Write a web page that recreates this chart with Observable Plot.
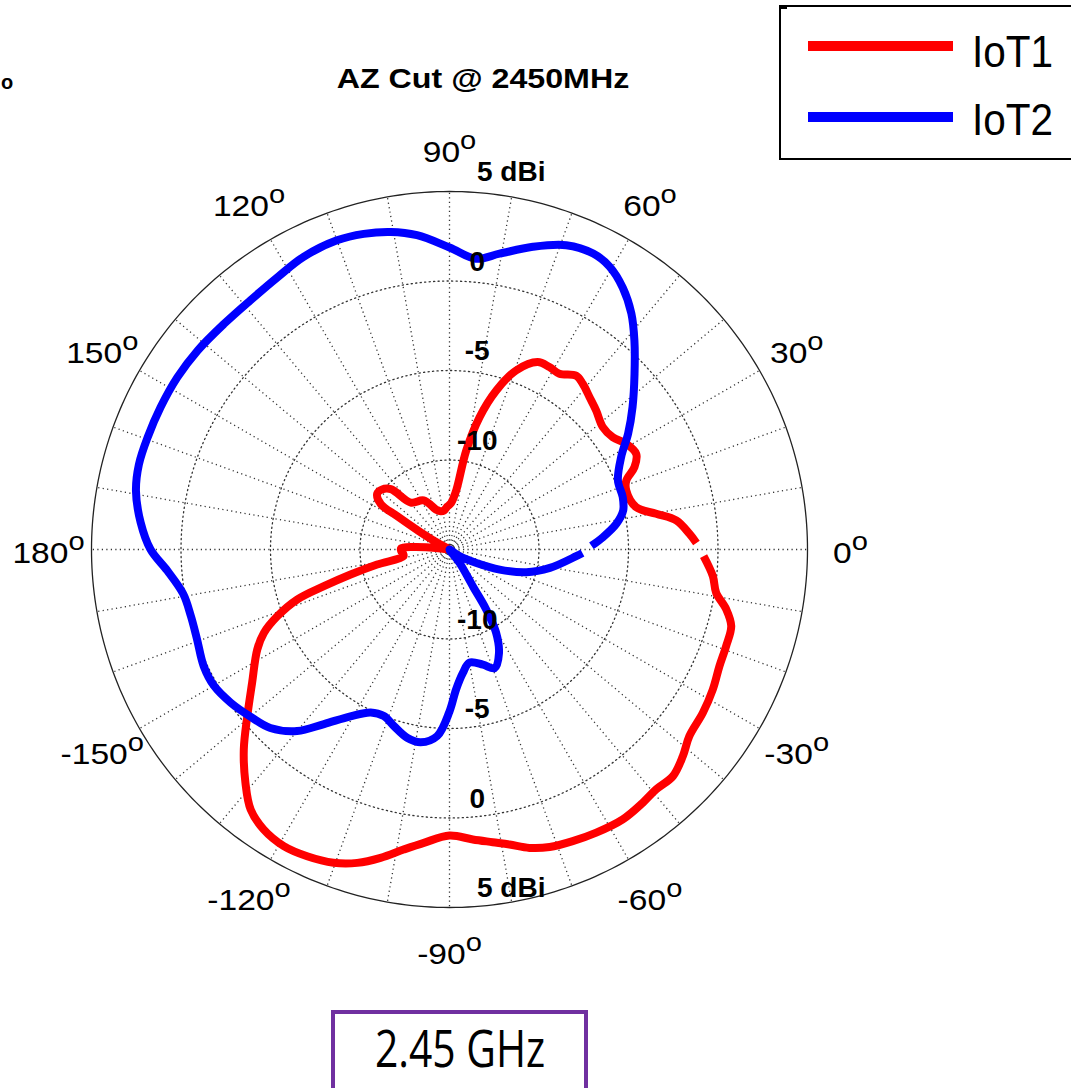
<!DOCTYPE html>
<html>
<head>
<meta charset="utf-8">
<script src="https://cdn.jsdelivr.net/npm/d3@7"></script>
<script src="https://cdn.jsdelivr.net/npm/@observablehq/plot@0.6"></script>
<style>
  body { margin: 0; background: #fff; }
  #wrap { position: relative; width: 1071px; height: 1088px; overflow: hidden; font-family: "Liberation Sans", Arial, sans-serif; background: #fff; }
  #chart { position: absolute; left: 0; top: 0; }
  #title { position: absolute; left: 283px; top: 65px; width: 400px; text-align: center; font-weight: bold; font-size: 28px; line-height: 1; transform: scaleX(1.15); white-space: nowrap; }
  #stray { position: absolute; left: 1px; top: 72px; font-weight: bold; font-size: 20px; line-height: 1; }
  #legend { position: absolute; left: 779px; top: 5px; width: 330px; height: 151px; border: 2px solid #000; box-sizing: content-box; }
  #legend .notch { position: absolute; left: -2px; top: -2px; width: 8px; height: 4px; background: #000; }
  .lg-line { position: absolute; height: 10px; width: 145px; }
  .lg-text { position: absolute; font-size: 45px; line-height: 1; transform: scaleX(0.9); transform-origin: left top; white-space: nowrap; }
  #freq { position: absolute; left: 331px; top: 1010px; width: 249px; height: 110px; border: 4.5px solid #7030A0; }
  #freqText { position: absolute; left: 331px; top: 1022px; width: 258px; text-align: center; font-family: "Open Sans", "Noto Sans", sans-serif; font-size: 51px; line-height: 1; transform: scaleX(0.8); white-space: nowrap; }
</style>
</head>
<body>
<div id="wrap">
  <div id="chart"></div>
  <div id="stray">o</div>
  <div id="title"></div>
  <div id="legend"><div class="notch"></div></div>
  <div id="freq"></div>
  <div id="freqText"></div>
</div>
<script>
// ---------------- data ----------------
const titleText = "AZ Cut @ 2450MHz";
const freqLabel = "2.45 GHz";
const seriesNames = ["IoT1", "IoT2"];
const seriesColors = ["#ff0000", "#0000ff"];

// radial axis (dBi): centre of the plot = rMin, outer circle = rMax
const rMin = -15;
const rMax = 5;
const ringValues = [-10, -5, 0, 5];
const ringLabels = ["-10", "-5", "0", "5 dBi"];

// angular axis (degrees)
const spokeAngles = [0, 10, 20, 30, 40, 50, 60, 70, 80, 90, 100, 110, 120, 130, 140, 150, 160, 170,
                     180, 190, 200, 210, 220, 230, 240, 250, 260, 270, 280, 290, 300, 310, 320, 330, 340, 350];
const angleTicks = [0, 30, 60, 90, 120, 150, 180, 210, 240, 270, 300, 330];
const angleTickLabels = ["0", "30", "60", "90", "120", "150", "180", "-150", "-120", "-90", "-60", "-30"];

// IoT1 (red) – azimuth (deg) and gain (dBi)
const iot1Angle = [1.5, 3.7, 7.3, 9.8, 12.8, 18.5, 21.3, 24.0, 27.1, 30.9, 34.5, 38.6, 43.5, 47.4, 51.2,
  53.9, 58.0, 61.3, 64.8, 69.6, 73.6, 77.2, 80.4, 83.5, 88, 93, 98, 103, 107.5, 117.7,
  129.5, 134.2, 138.5, 142.4, 146.5, 147.5, 149, 151, 153, 160, 168, 173, 176, 178.5, 182,
  185, 188.3, 191.7, 194.2, 196.3, 198.2, 201.2, 204.2, 207.5, 214, 219.5, 224.2, 228.8, 232.6, 236.4,
  240.8, 245.1, 249.7, 253.6, 257.4, 261.3, 265, 270, 274.6, 278.4, 281.5, 285, 288.6, 292.9, 297.4,
  302.7, 307.3, 310.7, 314.6, 318.5, 322.1, 327.2, 332, 336.6, 340.7, 344.8, 347.8, 350.8, 354.2, 358.5];
const iot1Gain = [-1.2, -1.56, -2.23, -3.28, -4.31, -4.59, -4.40, -3.69, -3.28, -3.50, -3.93, -4.04, -3.71, -3.44, -3.12,
  -2.98, -3.42, -3.38, -3.43, -4.33, -5.74, -7.42, -9.39, -11.68, -12.4, -12.6, -12.8, -12.8, -12.7, -11.9,
  -11.6, -10.3, -9.95, -9.9, -10.4, -11.5, -13.0, -14.2, -15.5, -18, -16, -14.5, -13.0, -12.3, -12.3,
  -12.4, -12.4, -10.87, -9.30, -7.69, -6.04, -4.68, -3.63, -2.89, -1.70, -0.36, 1.03, 2.31, 3.29, 3.77,
  3.98, 3.89, 3.66, 3.25, 2.65, 1.96, 1.45, 0.98, 1.25, 1.53, 1.82, 2.26, 2.54, 2.69, 2.82,
  2.92, 2.80, 2.69, 2.78, 2.41, 1.98, 1.84, 1.66, 1.43, 1.37, 1.31, 0.82, 0.09, -0.21, -0.8];

// IoT2 (blue)
const iot2Angle = [1.5, 4.6, 8.8, 12.6, 16.8, 22.3, 28.3, 33.0, 37.9, 43.5, 48.5, 52.4, 56.5, 60.5, 64.1,
  69.0, 74.6, 80.4, 84.8, 90, 95.9, 100.5, 105.2, 110, 116.5, 122.3, 128.6, 135, 141.7, 147.7,
  153.8, 159.6, 164.7, 169.4, 175, 180, 184.3, 189.5, 194.4, 199.6, 205.4, 210.1, 215, 219.9, 224.9,
  230, 234.3, 239.3, 244.2, 248.5, 252.5, 257.3, 261.5, 266.2, 270, 272.7, 276.2, 280, 286.2, 290.8,
  295.5, 299.3, 301.5, 302.4, 306.9, 315, 326.3, 333.5, 338.2, 343.5, 349.6, 357, 358.5];
const iot2Gain = [-7.07, -6.40, -5.56, -5.06, -4.89, -4.83, -4.11, -3.10, -2.04, -0.75, 0.59, 1.65, 2.54, 3.16, 3.38,
  3.21, 2.54, 1.76, 1.31, 1.87, 2.65, 3.04, 3.27, 3.38, 3.27, 2.99, 2.82, 2.82, 2.93, 2.99,
  2.99, 2.99, 2.99, 2.82, 2.32, 1.70, 0.81, 0.08, -0.08, -0.03, 0.20, 0.20, -0.08, -0.47, -0.87,
  -1.76, -2.99, -4.16, -4.89, -5.00, -4.66, -4.22, -4.11, -4.55, -5.95, -7.18, -8.07, -8.58, -8.30, -7.91,
  -8.58, -9.69, -11.09, -12.54, -14.05, -16, -14.33, -13.32, -11.98, -10.53, -9.30, -7.91, -7.57];

// ---------------- geometry helpers ----------------
const span = rMax - rMin;
const toRad = a => a * Math.PI / 180;
const R = g => Math.max(0, Math.min(span, g - rMin));
const PX = (a, g) => R(g) * Math.cos(toRad(a));
const PY = (a, g) => R(g) * Math.sin(toRad(a));

const cx = 449, cy = 549, rpx = 358;

const series = [
  {name: seriesNames[0], color: seriesColors[0], rows: iot1Angle.map((a, i) => ({a, g: iot1Gain[i]}))},
  {name: seriesNames[1], color: seriesColors[1], rows: iot2Angle.map((a, i) => ({a, g: iot2Gain[i]}))}
];

const circleSteps = d3.range(0, 361, 1);
const ringRows = ringValues.flatMap(v => circleSteps.map(a => ({v, a})));
const labelRows = angleTicks.map((a, i) => ({a, t: angleTickLabels[i]}));
const dbRows = ringValues.flatMap((v, i) => [{v, t: ringLabels[i], s: 1}, {v, t: ringLabels[i], s: -1}]);
const labelR = span + 2.4;

const plot = Plot.plot({
  width: 1071,
  height: 1088,
  x: {domain: [-span, span], range: [cx - rpx, cx + rpx], axis: null},
  y: {domain: [-span, span], range: [cy + rpx, cy - rpx], axis: null},
  style: {fontFamily: "'Liberation Sans', Arial, sans-serif", background: "transparent", overflow: "visible"},
  marks: [
    // dotted radial spokes
    Plot.link(spokeAngles, {
      x1: () => 0, y1: () => 0,
      x2: a => span * Math.cos(toRad(a)), y2: a => span * Math.sin(toRad(a)),
      stroke: "#333", strokeWidth: 1.3, strokeDasharray: "1.2 3.3"
    }),
    // dotted inner rings
    Plot.line(ringRows.filter(d => d.v < rMax), {
      x: d => PX(d.a, d.v), y: d => PY(d.a, d.v), z: "v",
      stroke: "#333", strokeWidth: 1.3, strokeDasharray: "1.2 3.3"
    }),
    // solid outer ring
    Plot.line(ringRows.filter(d => d.v === rMax), {
      x: d => PX(d.a, d.v), y: d => PY(d.a, d.v),
      stroke: "#222", strokeWidth: 1.3
    }),
    // data curves
    ...series.map(s => Plot.line(s.rows, {
      x: d => PX(d.a, d.g), y: d => PY(d.a, d.g),
      stroke: s.color, strokeWidth: 8, curve: "catmull-rom", strokeLinejoin: "round", strokeLinecap: "butt"
    })),
    // angle labels
    Plot.text(labelRows, {
      x: d => labelR * Math.cos(toRad(d.a)), y: d => labelR * Math.sin(toRad(d.a)),
      text: d => d.t + "|o", dy: 4, fontSize: 30, fill: "#000"
    }),
    // dBi ring labels
    Plot.text(dbRows, {
      x: d => d.v === rMax ? 3.45 : 1.55, y: d => d.s * R(d.v),
      text: "t", dy: -19, fontSize: 28, fontWeight: "bold", fill: "#000"
    })
  ]
});

// superscript "o" and horizontal stretch on angle labels
plot.querySelectorAll("text").forEach(t => {
  const s = t.textContent;
  if (s.includes("|")) {
    const [num, sup] = s.split("|");
    t.textContent = num;
    const ts = document.createElementNS("http://www.w3.org/2000/svg", "tspan");
    ts.setAttribute("dy", "-13");
    ts.setAttribute("font-size", "26");
    ts.textContent = sup;
    t.appendChild(ts);
    const tr = t.getAttribute("transform");
    if (tr) t.setAttribute("transform", tr + " scale(1.12,1)");
    else {
      const x = +t.getAttribute("x") || 0;
      t.removeAttribute("x");
      t.setAttribute("transform", `translate(${x},0) scale(1.12,1)`);
    }
  }
});

document.getElementById("chart").appendChild(plot);
document.getElementById("title").textContent = titleText;
document.getElementById("freqText").textContent = freqLabel;

// legend
const legend = document.getElementById("legend");
series.forEach((s, i) => {
  const line = document.createElement("div");
  line.className = "lg-line";
  line.style.left = (808 - 781) + "px";
  line.style.top = (41 + 71 * i - 7) + "px";
  line.style.background = s.color;
  legend.appendChild(line);
  const txt = document.createElement("div");
  txt.className = "lg-text";
  txt.style.left = (972 - 781) + "px";
  txt.style.top = (29 + 68 * i - 7) + "px";
  txt.textContent = s.name;
  legend.appendChild(txt);
});
</script>
</body>
</html>
